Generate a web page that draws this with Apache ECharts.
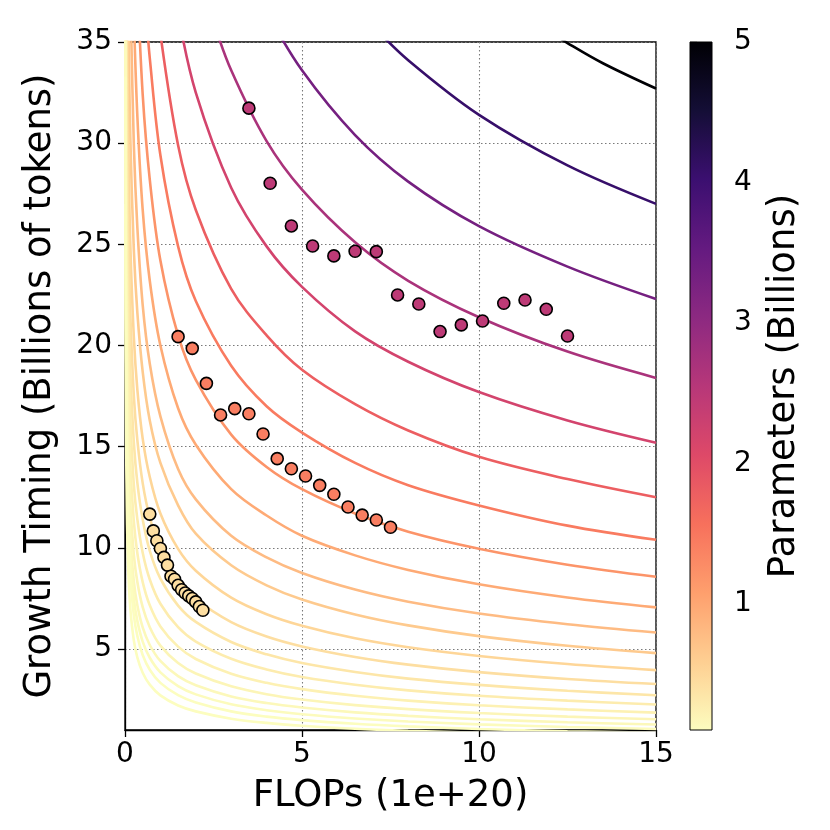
<!DOCTYPE html>
<html>
<head>
<meta charset="utf-8">
<script src="https://cdn.jsdelivr.net/npm/echarts@6/dist/echarts.min.js"></script>
<style>
    html, body { margin: 0; padding: 0; background: #fff; }
    #chart { width: 830px; height: 830px; }
</style>
</head>
<body>
<div id="chart"></div>
<script>
// parameters (billions) of each contour, top curve first
var levels = [5.0, 4.07, 3.32, 2.70, 2.20, 1.79, 1.46, 1.19, 0.97, 0.79, 0.64, 0.52, 0.43, 0.35, 0.28, 0.23, 0.19, 0.15, 0.12, 0.10, 0.08];

// contour curves, [flops, tokens]
var c01 = [[12.2, 35.3], [12.5, 34.95], [13.5, 33.95], [15, 32.7]];
var c02 = [[7.0, 35.8], [8.0, 34.1], [10.0, 31.4], [12.5, 28.9], [15, 27.0]];
var c03 = [[4.0, 36.5], [5.0, 33.6], [6.5, 30.4], [8.0, 28.1], [10.0, 25.9], [12.5, 23.9], [15, 22.3]];
var c04 = [[2.5, 36.0], [3.0, 33.6], [4.0, 30.1], [5.0, 27.7], [6.5, 25.1], [8.0, 23.2], [10.0, 21.4], [12.5, 19.7], [15, 18.4]];
var c05 = [[1.5, 36.4], [2.0, 32.5], [3.0, 27.8], [4.0, 24.9], [5.0, 22.9], [6.5, 20.7], [8.0, 19.2], [10.0, 17.7], [12.5, 16.3], [15, 15.2]];
var c06 = [[1.0, 35.4], [1.5, 29.9], [2.0, 26.7], [3.0, 22.8], [4.0, 20.5], [5.0, 18.8], [6.5, 17.1], [8.0, 15.8], [10.0, 14.5], [12.5, 13.4], [15, 12.5]];
var c07 = [[0.6, 36.4], [0.7, 34.2], [1.0, 29.4], [1.5, 24.9], [2.0, 22.2], [3.0, 19.0], [4.0, 17.0], [5.0, 15.7], [6.5, 14.2], [8.0, 13.1], [10.0, 12.1], [12.5, 11.1], [15, 10.4]];
var c08 = [[0.35, 38.0], [0.5, 32.4], [0.7, 28.2], [1.0, 24.2], [1.5, 20.5], [2.0, 18.3], [3.0, 15.6], [4.0, 14.0], [5.0, 12.9], [6.5, 11.7], [8.0, 10.8], [10.0, 9.96], [12.5, 9.17], [15, 8.57]];
var c09 = [[0.25, 36.3], [0.35, 31.3], [0.5, 26.7], [0.7, 23.2], [1.0, 20.0], [1.5, 16.9], [2.0, 15.1], [3.0, 12.9], [4.0, 11.6], [5.0, 10.6], [6.5, 9.63], [8.0, 8.91], [10.0, 8.20], [12.5, 7.55], [15, 7.06]];
var c10 = [[0.15, 37.6], [0.25, 29.9], [0.35, 25.8], [0.5, 22.0], [0.7, 19.1], [1.0, 16.5], [1.5, 13.9], [2.0, 12.4], [3.0, 10.6], [4.0, 9.53], [5.0, 8.76], [6.5, 7.94], [8.0, 7.34], [10.0, 6.76], [12.5, 6.23], [15, 5.82]];
var c11 = [[0.08, 38.9], [0.1, 35.6], [0.15, 30.3], [0.25, 24.7], [0.35, 21.6], [0.5, 18.7], [0.7, 16.3], [1.0, 14.2], [1.5, 12.1], [2.0, 10.7], [3.0, 9.14], [4.0, 8.15], [5.0, 7.45], [6.5, 6.71], [8.0, 6.17], [10.0, 5.64], [12.5, 5.16], [15, 4.80]];
var c12 = [[0.05, 38.8], [0.07, 33.9], [0.1, 29.4], [0.15, 25.0], [0.25, 20.4], [0.35, 17.8], [0.5, 15.4], [0.7, 13.5], [1.0, 11.7], [1.5, 9.95], [2.0, 8.87], [3.0, 7.54], [4.0, 6.72], [5.0, 6.15], [6.5, 5.53], [8.0, 5.09], [10.0, 4.66], [12.5, 4.26], [15, 3.96]];
var c13 = [[0.03, 41.8], [0.05, 33.9], [0.07, 29.5], [0.1, 25.5], [0.15, 21.6], [0.25, 17.5], [0.35, 15.3], [0.5, 13.2], [0.7, 11.5], [1.0, 9.92], [1.5, 8.40], [2.0, 7.47], [3.0, 6.33], [4.0, 5.62], [5.0, 5.13], [6.5, 4.61], [8.0, 4.23], [10.0, 3.86], [12.5, 3.52], [15, 3.27]];
var c14 = [[0.02, 43.8], [0.03, 37.0], [0.05, 29.8], [0.07, 25.9], [0.1, 22.3], [0.15, 18.8], [0.25, 15.2], [0.35, 13.2], [0.5, 11.4], [0.7, 9.85], [1.0, 8.48], [1.5, 7.15], [2.0, 6.34], [3.0, 5.35], [4.0, 4.74], [5.0, 4.31], [6.5, 3.87], [8.0, 3.54], [10.0, 3.23], [12.5, 2.94], [15, 2.72]];
var c15 = [[0.01, 52.5], [0.02, 38.9], [0.03, 32.7], [0.05, 26.3], [0.07, 22.7], [0.1, 19.5], [0.15, 16.4], [0.25, 13.1], [0.35, 11.4], [0.5, 9.76], [0.7, 8.44], [1.0, 7.24], [1.5, 6.08], [2.0, 5.37], [3.0, 4.52], [4.0, 3.99], [5.0, 3.62], [6.5, 3.24], [8.0, 2.96], [10.0, 2.69], [12.5, 2.45], [15, 2.26]];
var c16 = [[0.01, 46.4], [0.02, 34.2], [0.03, 28.6], [0.05, 22.9], [0.07, 19.7], [0.1, 16.9], [0.15, 14.1], [0.25, 11.3], [0.35, 9.72], [0.5, 8.31], [0.7, 7.16], [1.0, 6.12], [1.5, 5.12], [2.0, 4.51], [3.0, 3.78], [4.0, 3.33], [5.0, 3.02], [6.5, 2.69], [8.0, 2.45], [10.0, 2.22], [12.5, 2.02], [15, 1.86]];
var c17 = [[0.01, 41.1], [0.02, 30.1], [0.03, 25.1], [0.05, 19.9], [0.07, 17.1], [0.1, 14.6], [0.15, 12.2], [0.25, 9.66], [0.35, 8.30], [0.5, 7.07], [0.7, 6.08], [1.0, 5.17], [1.5, 4.31], [2.0, 3.79], [3.0, 3.16], [4.0, 2.77], [5.0, 2.51], [6.5, 2.23], [8.0, 2.03], [10.0, 1.84], [12.5, 1.66], [15, 1.53]];
var c18 = [[0.01, 36.7], [0.02, 26.7], [0.03, 22.1], [0.05, 17.5], [0.07, 15.0], [0.1, 12.7], [0.15, 10.6], [0.25, 8.35], [0.35, 7.15], [0.5, 6.07], [0.7, 5.20], [1.0, 4.41], [1.5, 3.66], [2.0, 3.21], [3.0, 2.66], [4.0, 2.33], [5.0, 2.11], [6.5, 1.87], [8.0, 1.70], [10.0, 1.53], [12.5, 1.38], [15, 1.27]];
var c19 = [[0.01, 35.1], [0.02, 25.2], [0.03, 20.7], [0.05, 16.2], [0.07, 13.8], [0.1, 11.6], [0.15, 9.58], [0.25, 7.49], [0.35, 6.38], [0.5, 5.37], [0.7, 4.57], [1.0, 3.85], [1.5, 3.17], [2.0, 2.76], [3.0, 2.27], [4.0, 1.98], [5.0, 1.78], [6.5, 1.57], [8.0, 1.42], [10.0, 1.28], [12.5, 1.15], [15, 1.05]];
var c20 = [[0.01, 33.3], [0.02, 23.6], [0.03, 19.2], [0.05, 14.9], [0.07, 12.6], [0.1, 10.5], [0.15, 8.60], [0.25, 6.66], [0.35, 5.63], [0.5, 4.71], [0.7, 3.98], [1.0, 3.33], [1.5, 2.72], [2.0, 2.36], [3.0, 1.92], [4.0, 1.66], [5.0, 1.49], [6.5, 1.31], [8.0, 1.18], [10.0, 1.05], [12.5, 0.94], [15, 0.86]];
var c21 = [[0.01, 27.0], [0.02, 19.2], [0.03, 15.6], [0.05, 12.1], [0.07, 10.2], [0.1, 8.55], [0.15, 7.00], [0.25, 5.42], [0.35, 4.58], [0.5, 3.83], [0.7, 3.24], [1.0, 2.71], [1.5, 2.21], [2.0, 1.92], [3.0, 1.56], [4.0, 1.35], [5.0, 1.21], [6.5, 1.06], [8.0, 0.96], [10.0, 0.86], [12.5, 0.77], [15, 0.70]];
var contours = [c01, c02, c03, c04, c05, c06, c07, c08, c09, c10, c11, c12, c13, c14, c15, c16, c17, c18, c19, c20, c21];

// measured runs, one group per model size
var smallX = [0.7, 0.8, 0.9, 1.0, 1.1, 1.2, 1.3, 1.4, 1.5, 1.6, 1.7, 1.8, 1.9, 2.0, 2.1, 2.2];
var smallY = [11.67, 10.84, 10.35, 9.97, 9.53, 9.15, 8.60, 8.45, 8.15, 7.93, 7.77, 7.63, 7.50, 7.33, 7.10, 6.92];
var midX = [1.5, 1.9, 2.3, 2.7, 3.1, 3.5, 3.9, 4.3, 4.7, 5.1, 5.5, 5.9, 6.3, 6.7, 7.1, 7.5];
var midY = [20.44, 19.86, 18.13, 16.57, 16.88, 16.63, 15.63, 14.41, 13.91, 13.55, 13.09, 12.65, 12.02, 11.62, 11.38, 11.02];
var bigX = [3.5, 4.1, 4.7, 5.3, 5.9, 6.5, 7.1, 7.7, 8.3, 8.9, 9.5, 10.1, 10.7, 11.3, 11.9, 12.5];
var bigY = [31.73, 28.02, 25.91, 24.92, 24.43, 24.66, 24.64, 22.50, 22.05, 20.69, 21.02, 21.21, 22.09, 22.25, 21.79, 20.47];
var groupParams = [0.43, 1.42, 2.47];

var xTicks = [0, 5, 10, 15];
var yTicks = [5, 10, 15, 20, 25, 30, 35];
var cbTicks = [1, 2, 3, 4, 5];
var cbMin = 0.1, cbMax = 5;

var FONT = 'DejaVu Sans';

// magma colormap, low -> high
var magma = ['#000004', '#140e36', '#3b0f70', '#641a80', '#8c2981', '#b73779',
             '#de4968', '#f7705c', '#fe9f6d', '#fecf92', '#fcfdbf'];

function hexRgb(h) {
    return [parseInt(h.substr(1, 2), 16), parseInt(h.substr(3, 2), 16), parseInt(h.substr(5, 2), 16)];
}

// magma_r: small values pale, large values dark
function colorOf(v) {
    var t = 1 - (v - cbMin) / (cbMax - cbMin);
    t = Math.max(0, Math.min(1, t));
    var pos = t * (magma.length - 1);
    var i = Math.min(magma.length - 2, Math.floor(pos));
    var f = pos - i;
    var a = hexRgb(magma[i]), b = hexRgb(magma[i + 1]);
    var c = [];
    for (var k = 0; k < 3; k++) {
        c.push(Math.round(a[k] + (b[k] - a[k]) * f));
    }
    return 'rgb(' + c.join(',') + ')';
}

function zipPts(xs, ys) {
    var out = [];
    for (var i = 0; i < xs.length; i++) {
        out.push([xs[i], ys[i]]);
    }
    return out;
}

var series = [];
for (var i = 0; i < contours.length; i++) {
    series.push({
        type: 'line',
        data: contours[i],
        smooth: 0.35,
        showSymbol: false,
        silent: true,
        clip: true,
        z: 2,
        lineStyle: { color: colorOf(levels[i]), width: 2.6 }
    });
}

var groups = [zipPts(smallX, smallY), zipPts(midX, midY), zipPts(bigX, bigY)];
for (var g = 0; g < groups.length; g++) {
    series.push({
        type: 'scatter',
        data: groups[g],
        symbol: 'circle',
        symbolSize: 12,
        z: 5,
        itemStyle: { color: colorOf(groupParams[g]), borderColor: '#000', borderWidth: 1.6, opacity: 1 }
    });
}

// colorbar drawn as one gradient rect on its own axes
var cbStops = [];
for (var s = 0; s < magma.length; s++) {
    cbStops.push({ offset: s / (magma.length - 1), color: magma[s] });
}
series.push({
    type: 'custom',
    xAxisIndex: 1,
    yAxisIndex: 1,
    silent: true,
    data: [[0, cbMin]],
    renderItem: function(params, api) {
        var tl = api.coord([0, cbMax]);
        var br = api.coord([1, cbMin]);
        return {
            type: 'rect',
            shape: { x: tl[0], y: tl[1], width: br[0] - tl[0], height: br[1] - tl[1] },
            style: {
                fill: new echarts.graphic.LinearGradient(0, 0, 0, 1, cbStops),
                stroke: '#000',
                lineWidth: 1
            }
        };
    }
});

var tickLbl = { color: '#000', fontFamily: FONT, fontSize: 28 };
var nameLbl = { color: '#000', fontFamily: FONT, fontSize: 37 };
var gridDots = { show: true, lineStyle: { color: '#7a7a7a', width: 1.1, type: [1.5, 2.5] } };

var option = {
    backgroundColor: '#fff',
    animation: false,
    grid: [
        { left: 125, top: 42, width: 531, height: 688, show: true, borderColor: '#000', borderWidth: 1.3, backgroundColor: 'transparent' },
        { left: 690, top: 42, width: 22, height: 688 }
    ],
    xAxis: [
        {
            type: 'value', gridIndex: 0, min: 0, max: 15, interval: 5,
            name: 'FLOPs (1e+20)', nameLocation: 'middle', nameGap: 48, nameTextStyle: nameLbl,
            axisLine: { show: true, onZero: false, lineStyle: { color: '#000', width: 1.3 } },
            axisTick: { show: true, length: 7, lineStyle: { color: '#000', width: 1.3 }, customValues: xTicks },
            axisLabel: Object.assign({ margin: 11, customValues: xTicks }, tickLbl),
            splitLine: gridDots
        },
        { type: 'value', gridIndex: 1, min: 0, max: 1, show: false }
    ],
    yAxis: [
        {
            type: 'value', gridIndex: 0, min: 1, max: 35, minInterval: 5, maxInterval: 5,
            name: 'Growth Timing (Billions of tokens)', nameLocation: 'middle', nameGap: 66, nameTextStyle: nameLbl,
            axisLine: { show: true, onZero: false, lineStyle: { color: '#000', width: 1.3 } },
            axisTick: { show: true, length: 7, lineStyle: { color: '#000', width: 1.3 }, customValues: yTicks },
            axisLabel: Object.assign({ margin: 13, customValues: yTicks }, tickLbl),
            splitLine: gridDots
        },
        {
            type: 'value', gridIndex: 1, min: cbMin, max: cbMax, minInterval: 1, maxInterval: 1, position: 'right',
            name: 'Parameters (Billions)', nameLocation: 'middle', nameGap: 54, nameRotate: 90, nameTextStyle: nameLbl,
            axisLine: { show: false },
            axisTick: { show: true, length: 7, lineStyle: { color: '#000', width: 1.3 }, customValues: cbTicks },
            axisLabel: Object.assign({ margin: 22, customValues: cbTicks }, tickLbl),
            splitLine: { show: false }
        }
    ],
    series: series
};

var chart = echarts.init(document.getElementById('chart'), null, { renderer: 'canvas' });
chart.setOption(option);
</script>
</body>
</html>
